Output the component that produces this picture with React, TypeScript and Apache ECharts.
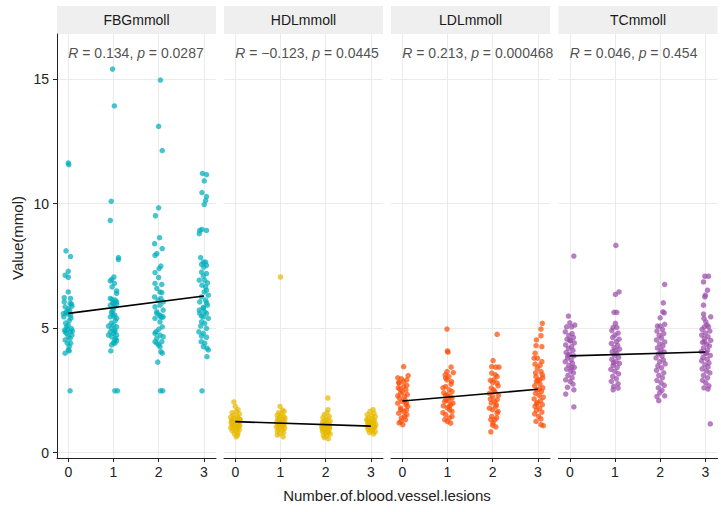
import React, { useEffect, useRef } from "react";
import * as echarts from "echarts";

const panelNames = ["FBGmmoll", "HDLmmoll", "LDLmmoll", "TCmmoll"];
const pointColors = ["#00AFBB", "#E7B800", "#FC4E07", "#9B4DAA"];
const xTicks = [0, 1, 2, 3];
const yTicks = [0, 5, 10, 15];
const rValues = ["0.134", "\u22120.123", "0.213", "0.046"];
const pValues = ["0.0287", "0.0445", "0.000468", "0.454"];
// fitted line values at x = 0 and x = 3
const fitStart = [5.59, 1.24, 2.07, 3.88];
const fitEnd = [6.29, 1.06, 2.54, 4.04];

const fbgPoints = [
  [0.0,11.63],[0.01,11.56],[-0.05,8.10],[0.05,7.87],[0.0,7.28],[-0.07,7.12],[0.0,7.04],[0.0,6.45],[-0.09,6.22],[0.05,6.19],[-0.09,6.05],[0.04,5.99],[0.07,5.96],[0.08,5.88],[-0.07,5.85],[0.0,5.77],[-0.04,5.65],[-0.05,5.61],[0.0,5.56],[0.05,5.52],[-0.1,5.45],[0.06,5.40],[0.02,5.3],[-0.06,5.2],[0.0,5.12],[-0.04,5.05],[0.07,4.98],[-0.08,4.92],[-0.07,4.85],[0.04,4.85],[-0.04,4.79],[0.08,4.72],[0.0,4.65],[0.04,4.59],[-0.07,4.52],[-0.02,4.39],[0.05,4.39],[0.02,4.25],[0.0,4.12],[0.02,4.08],[-0.07,3.99],[0.04,2.48],[0.03,5.7],[-0.02,4.95],[0.09,4.88],[-0.11,5.58],
  [0.98,15.4],[1.02,13.92],[0.95,10.09],[0.93,9.32],[1.11,7.83],[1.11,7.75],[1.01,7.05],[0.96,6.95],[0.93,6.89],[1.02,6.79],[0.97,6.65],[1.07,6.49],[1.07,6.39],[0.93,6.19],[0.97,6.15],[1.04,6.12],[1.07,6.05],[1.0,6.01],[0.99,5.99],[1.07,5.96],[0.93,5.92],[1.02,5.85],[0.99,5.72],[0.96,5.65],[0.97,5.59],[1.03,5.52],[1.0,5.48],[0.93,5.45],[1.07,5.39],[1.04,5.30],[0.95,5.20],[1.0,5.12],[0.89,5.08],[1.07,5.05],[0.96,4.99],[1.03,4.92],[0.93,4.85],[1.03,4.85],[1.0,4.79],[1.07,4.72],[0.89,4.72],[0.96,4.65],[1.05,4.58],[1.03,4.52],[1.07,4.49],[1.0,4.41],[1.03,4.39],[0.96,4.32],[0.94,4.08],[1.03,2.48],[1.09,2.48],
  [2.04,14.96],[2.0,13.1],[2.08,12.13],[2.0,9.83],[1.93,9.51],[2.02,8.63],[1.91,8.39],[2.08,8.19],[1.96,7.99],[1.92,7.92],[2.05,7.49],[2.01,7.39],[1.92,7.23],[2.0,7.03],[1.92,6.79],[2.07,6.75],[1.96,6.59],[2.03,6.45],[2.07,6.42],[1.91,6.25],[2.05,6.19],[1.99,6.12],[2.1,6.05],[2.03,5.92],[1.92,5.85],[2.1,5.72],[1.96,5.65],[1.96,5.59],[2.03,5.52],[2.03,5.48],[2.1,5.45],[2.07,5.43],[1.92,5.39],[2.03,5.25],[2.08,5.05],[2.0,4.95],[1.94,4.85],[1.92,4.79],[2.03,4.72],[2.1,4.65],[1.96,4.59],[1.92,4.45],[2.07,4.45],[1.96,4.39],[2.0,4.32],[2.03,4.25],[2.05,4.05],[2.08,3.99],[1.98,3.63],[2.04,2.48],[2.09,2.48],
  [2.97,11.21],[3.06,11.16],[3.01,10.91],[2.96,10.44],[3.06,10.28],[3.04,10.12],[3.01,9.96],[2.96,8.96],[2.91,8.92],[3.06,8.92],[2.9,8.79],[2.93,7.83],[2.99,7.65],[3.04,7.65],[2.95,7.56],[3.06,7.52],[3.0,7.45],[2.95,7.25],[3.06,7.19],[2.99,7.09],[2.9,6.92],[3.02,6.92],[3.08,6.81],[2.96,6.72],[3.04,6.65],[3.06,6.52],[3.01,6.45],[3.1,6.32],[2.95,6.25],[3.04,6.12],[2.91,6.05],[3.06,6.01],[3.08,5.92],[2.99,5.83],[2.99,5.79],[2.9,5.72],[3.02,5.65],[2.91,5.59],[3.06,5.59],[2.95,5.48],[2.99,5.45],[3.1,5.39],[2.95,5.25],[3.02,5.19],[2.93,5.08],[3.06,4.99],[2.89,4.85],[2.99,4.79],[2.95,4.68],[3.06,4.63],[2.94,4.45],[3.02,4.39],[2.99,4.25],[3.07,4.19],[3.1,4.12],[3.07,3.85],[2.96,2.48]
];

const hdlPoints = [
  [-0.03,2.03],[0.0,1.85],[0.06,1.72],[0.02,1.65],[-0.07,1.6],[0.09,1.55],[-0.04,1.5],[0.04,1.45],[-0.1,1.42],[0.07,1.38],[-0.02,1.35],[0.1,1.32],[-0.08,1.3],[0.03,1.28],[-0.05,1.25],[0.08,1.22],[0.0,1.2],[-0.09,1.18],[0.05,1.15],[-0.03,1.12],[0.1,1.1],[-0.06,1.08],[0.02,1.05],[0.07,1.02],[-0.1,1.0],[0.04,0.98],[-0.04,0.95],[0.09,0.92],[-0.07,0.88],[0.01,0.85],[0.06,0.8],[-0.02,0.75],[0.05,0.7],[0.02,0.63],[-0.08,1.26],[0.06,1.14],[0.11,1.33],[-0.01,1.06],[0.03,1.21],
  [1.0,7.05],[0.99,1.85],[1.05,1.7],[1.08,1.65],[0.96,1.6],[1.02,1.55],[0.93,1.5],[1.07,1.45],[0.99,1.42],[1.1,1.38],[0.94,1.35],[1.04,1.3],[0.97,1.28],[1.09,1.25],[0.92,1.22],[1.03,1.18],[0.98,1.15],[1.08,1.12],[0.95,1.1],[1.05,1.06],[0.91,1.03],[1.01,1.0],[1.09,0.97],[0.96,0.94],[1.04,0.9],[0.93,0.85],[1.07,0.8],[0.99,0.75],[0.93,0.7],[1.06,0.63],[1.01,1.2],[0.97,1.32],[1.06,1.08],
  [2.05,2.19],[2.05,1.72],[2.03,1.59],[1.97,1.52],[2.08,1.45],[1.94,1.4],[2.04,1.35],[1.99,1.3],[2.1,1.26],[1.93,1.22],[2.02,1.18],[2.08,1.15],[1.96,1.12],[2.05,1.08],[1.92,1.05],[2.01,1.02],[2.09,1.0],[1.95,0.97],[2.03,0.94],[1.98,0.91],[2.07,0.88],[1.93,0.85],[2.04,0.82],[1.99,0.78],[2.1,0.74],[1.95,0.7],[2.02,0.66],[1.97,0.6],[2.06,0.55],[2.0,1.1],[1.94,0.95],[2.08,1.03],[2.01,0.9],[1.98,1.2],[2.06,0.8],[1.92,0.98],
  [3.05,1.72],[2.98,1.65],[3.07,1.58],[2.92,1.52],[3.02,1.48],[3.1,1.44],[2.95,1.4],[3.04,1.36],[2.91,1.32],[3.08,1.28],[2.99,1.25],[3.06,1.22],[2.93,1.19],[3.01,1.16],[3.11,1.13],[2.96,1.1],[3.04,1.07],[2.92,1.04],[3.09,1.01],[2.98,0.98],[3.05,0.95],[2.94,0.92],[3.02,0.88],[3.1,0.84],[2.97,0.8],[3.06,0.75],[3.0,1.2],[2.93,1.3],[3.08,1.05],[2.96,1.15],[3.03,0.9]
];

const ldlPoints = [
  [0.03,3.45],[0.13,3.09],[-0.02,2.96],[0.1,2.92],[0.03,2.85],[-0.08,2.81],[-0.07,2.79],[0.03,2.65],[0.08,2.52],[-0.04,2.39],[0.05,2.25],[0.0,2.05],[0.08,1.92],[-0.04,1.79],[0.03,1.65],[0.1,1.52],[-0.02,1.39],[0.07,1.32],[-0.07,1.19],[0.01,1.12],[0.1,2.7],[-0.09,2.6],[0.0,2.45],[0.11,2.33],[-0.06,2.18],[0.06,2.1],[-0.1,1.98],[0.12,1.85],[-0.03,1.72],[-0.08,1.58],[0.05,1.45],[-0.1,2.28],[0.09,2.0],[0.09,1.7],[-0.1,3.0],[-0.05,2.55],[-0.03,1.25],
  [0.99,4.96],[1.0,4.08],[1.01,4.03],[1.08,3.43],[0.99,3.25],[1.13,3.21],[1.03,3.05],[0.99,2.92],[1.09,2.85],[0.96,2.99],[0.96,2.65],[1.04,2.52],[1.0,2.32],[1.1,2.19],[0.94,2.05],[1.07,1.92],[1.0,1.79],[1.1,1.65],[0.96,1.52],[1.04,1.39],[1.0,1.25],[0.94,1.32],[1.08,2.75],[0.9,2.6],[1.1,2.45],[0.92,2.4],[1.06,2.25],[0.97,2.12],[1.12,1.98],[0.91,1.87],[1.05,1.72],[0.9,1.6],[1.1,1.45],[1.02,2.08],[0.96,2.3],[1.04,1.85],[0.95,3.12],[1.07,1.18],
  [2.1,4.75],[2.01,3.69],[1.98,3.45],[2.07,3.43],[2.14,3.43],[1.98,3.19],[2.1,3.05],[2.03,2.92],[2.0,2.81],[2.06,3.12],[2.1,2.79],[1.97,2.59],[2.05,2.45],[2.0,2.25],[2.1,2.12],[1.97,1.99],[2.07,1.85],[2.0,1.72],[2.1,1.59],[1.98,1.45],[2.05,1.32],[2.01,1.19],[1.96,1.32],[2.07,1.03],[1.96,0.83],[2.12,2.68],[1.93,2.38],[2.13,2.3],[1.95,2.15],[2.04,2.05],[1.93,1.78],[2.12,1.65],[2.08,1.92],[2.02,2.52],[1.95,2.9],[2.09,1.4],[2.0,1.1],
  [3.1,5.19],[3.07,4.96],[3.07,4.69],[2.97,4.52],[3.09,4.25],[2.96,4.29],[2.94,3.99],[2.99,3.79],[2.92,3.79],[3.09,3.65],[2.94,3.55],[2.99,3.39],[3.07,3.25],[2.96,3.05],[3.1,3.12],[3.04,2.92],[2.97,2.85],[3.05,2.75],[2.93,2.68],[3.11,2.6],[2.98,2.52],[3.08,2.45],[2.95,2.38],[3.03,2.3],[3.12,2.22],[2.92,2.15],[3.06,2.08],[2.99,2.0],[3.1,1.92],[2.94,1.85],[3.04,1.78],[2.97,1.7],[3.09,1.62],[2.93,1.55],[3.02,1.45],[3.07,1.35],[2.96,1.25],[3.07,1.12],[3.12,1.08],[3.0,2.9],[2.95,3.2],[3.11,3.0],[3.03,2.55],[2.97,1.95],[3.05,3.5]
];

const tcPoints = [
  [0.09,7.89],[-0.03,5.48],[0.0,5.21],[0.11,5.12],[-0.07,5.05],[0.04,5.05],[-0.1,4.85],[0.05,4.78],[-0.02,4.7],[0.08,4.62],[-0.06,4.55],[0.02,4.48],[0.1,4.4],[-0.09,4.32],[0.04,4.25],[-0.03,4.18],[0.07,4.1],[-0.08,4.02],[0.0,3.95],[0.09,3.88],[-0.05,3.8],[0.03,3.72],[-0.1,3.65],[0.06,3.58],[-0.02,3.5],[0.1,3.42],[-0.07,3.35],[0.02,3.28],[0.08,3.2],[-0.04,3.1],[0.05,3.0],[-0.09,2.92],[0.01,2.85],[0.07,2.75],[-0.05,2.62],[0.09,2.52],[-0.09,2.35],[0.09,1.83],[0.0,4.5],[-0.04,3.9],[0.04,3.4],
  [1.02,8.32],[1.09,6.45],[1.01,6.35],[0.98,5.63],[1.04,5.63],[1.01,5.19],[0.96,5.03],[1.04,5.03],[0.93,4.9],[1.07,4.8],[1.0,4.72],[0.95,4.62],[1.09,4.55],[1.03,4.45],[0.92,4.38],[1.06,4.3],[0.98,4.22],[1.1,4.15],[0.94,4.05],[1.04,3.98],[0.99,3.9],[1.08,3.82],[0.93,3.74],[1.02,3.66],[1.1,3.58],[0.96,3.5],[1.05,3.42],[0.91,3.34],[1.0,3.26],[1.08,3.16],[0.95,3.06],[1.03,2.96],[0.92,2.86],[1.07,2.76],[0.97,2.66],[0.96,2.52],[1.07,2.59],[1.01,4.1],[0.97,3.6],
  [2.1,6.75],[2.07,6.01],[2.06,5.65],[2.09,5.61],[2.0,5.41],[2.1,5.15],[1.94,5.08],[2.0,5.08],[2.05,4.95],[1.93,4.88],[2.08,4.78],[1.98,4.7],[2.03,4.6],[1.92,4.52],[2.1,4.44],[1.99,4.36],[2.06,4.28],[1.94,4.2],[2.02,4.12],[2.09,4.04],[1.96,3.96],[2.04,3.88],[1.91,3.8],[2.07,3.72],[1.99,3.64],[2.11,3.56],[1.95,3.48],[2.03,3.4],[1.92,3.3],[2.08,3.2],[1.97,3.1],[2.05,3.0],[1.93,2.9],[2.02,2.8],[2.09,2.7],[1.96,2.6],[2.04,2.5],[1.99,2.4],[1.93,2.25],[2.1,2.28],[1.97,2.08],[2.0,4.0],
  [2.99,7.08],[3.07,7.08],[2.96,6.85],[3.05,6.52],[2.99,6.25],[3.0,6.32],[2.96,5.92],[2.96,5.56],[3.12,5.45],[2.97,5.39],[3.01,5.25],[3.04,5.12],[2.98,5.05],[3.07,5.05],[2.93,4.95],[3.1,4.88],[3.0,4.8],[2.92,4.72],[3.06,4.65],[2.98,4.58],[3.12,4.5],[2.94,4.42],[3.03,4.35],[3.09,4.28],[2.96,4.2],[3.05,4.12],[2.91,4.05],[3.0,3.98],[3.11,3.9],[2.95,3.82],[3.04,3.75],[2.92,3.68],[3.08,3.6],[2.99,3.52],[3.06,3.44],[2.93,3.36],[3.02,3.28],[3.1,3.2],[2.96,3.1],[3.05,3.0],[2.94,2.9],[3.01,2.8],[3.08,2.68],[2.97,2.6],[3.06,2.55],[3.11,1.15],[3.03,4.0],[2.98,4.45]
];

const panelPoints = [fbgPoints, hdlPoints, ldlPoints, tcPoints];

const FONT = "'Liberation Sans', Arial, sans-serif";
const gridLefts = [57, 224, 391, 558.5];
const GRID_TOP = 34;
const GRID_W = 159;
const GRID_H = 424;
const X_MIN = -0.25;
const X_MAX = 3.27;
const Y_MIN = -0.22;
const Y_MAX = 16.81;
const LABEL_Y = 16.03;

export default function App() {
  const ref = useRef<HTMLDivElement>(null);

  useEffect(() => {
    if (!ref.current) return;
    const chart = echarts.init(ref.current, undefined, { renderer: "svg" });

    const grids = gridLefts.map((left) => ({
      left,
      top: GRID_TOP,
      width: GRID_W,
      height: GRID_H,
      containLabel: false,
    }));

    const xAxes = gridLefts.map((_, i) => ({
      type: "value",
      gridIndex: i,
      min: X_MIN,
      max: X_MAX,
      z: 6,
      axisLine: { show: true, onZero: false, lineStyle: { color: "#222", width: 1 } },
      axisTick: { show: true, customValues: xTicks, length: 4, lineStyle: { color: "#222" } },
      axisLabel: { show: true, customValues: xTicks, fontSize: 14, color: "#222", margin: 7, fontFamily: FONT },
      splitLine: { show: false },
    }));

    const yAxes = gridLefts.map((_, i) => ({
      type: "value",
      gridIndex: i,
      min: Y_MIN,
      max: Y_MAX,
      z: 6,
      axisLine: { show: i === 0, onZero: false, lineStyle: { color: "#222", width: 1 } },
      axisTick: { show: i === 0, customValues: yTicks, length: 4, lineStyle: { color: "#222" } },
      axisLabel: { show: i === 0, customValues: yTicks, fontSize: 14, color: "#222", margin: 8, fontFamily: FONT },
      splitLine: { show: false },
    }));

    const series: any[] = [];
    panelNames.forEach((_, i) => {
      series.push({
        type: "line",
        xAxisIndex: i,
        yAxisIndex: i,
        data: [],
        silent: true,
        z: 0,
        markLine: {
          silent: true,
          z: 0,
          zlevel: 0,
          symbol: ["none", "none"],
          label: { show: false },
          lineStyle: { color: "#EBEBEB", width: 1, type: "solid" },
          emphasis: { disabled: true },
          data: [
            ...xTicks.map((v) => ({ xAxis: v })),
            ...yTicks.map((v) => ({ yAxis: v })),
          ],
        },
      });
      series.push({
        type: "scatter",
        xAxisIndex: i,
        yAxisIndex: i,
        data: panelPoints[i],
        symbolSize: 5.5,
        itemStyle: { color: pointColors[i], opacity: 0.72 },
        z: 3,
        silent: true,
      });
      series.push({
        type: "line",
        xAxisIndex: i,
        yAxisIndex: i,
        data: [
          [0, fitStart[i]],
          [3, fitEnd[i]],
        ],
        symbol: "none",
        lineStyle: { color: "#000", width: 1.6 },
        z: 4,
        silent: true,
      });
      series.push({
        type: "scatter",
        xAxisIndex: i,
        yAxisIndex: i,
        data: [[0, LABEL_Y]],
        symbolSize: 0,
        z: 5,
        silent: true,
        label: {
          show: true,
          position: "right",
          distance: 0,
          color: "#222",
          fontSize: 14,
          fontFamily: FONT,
          formatter: `{it|R} = ${rValues[i]}, {it|p} = ${pValues[i]}`,
          rich: {
            it: { fontStyle: "italic", fontSize: 14, color: "#222", fontFamily: FONT },
          },
        },
      });
    });

    const graphics: any[] = [];
    gridLefts.forEach((left, i) => {
      graphics.push({
        type: "rect",
        shape: { x: left, y: 6, width: GRID_W, height: 28 },
        style: { fill: "#EFEFEF" },
        silent: true,
      });
      graphics.push({
        type: "text",
        x: left + GRID_W / 2,
        y: 20,
        style: {
          text: panelNames[i],
          fill: "#1a1a1a",
          fontSize: 14,
          fontFamily: FONT,
          textAlign: "center",
          textVerticalAlign: "middle",
        },
        silent: true,
      });
    });
    graphics.push({
      type: "text",
      x: 17,
      y: 238,
      rotation: Math.PI / 2,
      style: {
        text: "Value(mmol)",
        fill: "#222",
        fontSize: 15,
        fontFamily: FONT,
        textAlign: "center",
        textVerticalAlign: "middle",
      },
      silent: true,
    });
    graphics.push({
      type: "text",
      x: 387,
      y: 495.5,
      style: {
        text: "Number.of.blood.vessel.lesions",
        fill: "#222",
        fontSize: 15,
        fontFamily: FONT,
        textAlign: "center",
        textVerticalAlign: "middle",
      },
      silent: true,
    });

    chart.setOption({
      animation: false,
      backgroundColor: "#ffffff",
      textStyle: { fontFamily: FONT },
      grid: grids,
      xAxis: xAxes,
      yAxis: yAxes,
      series,
      graphic: graphics,
    });

    return () => chart.dispose();
  }, []);

  return (
    <div
      ref={ref}
      style={{ position: "absolute", left: 0, top: 0, width: 721, height: 512 }}
    />
  );
}
